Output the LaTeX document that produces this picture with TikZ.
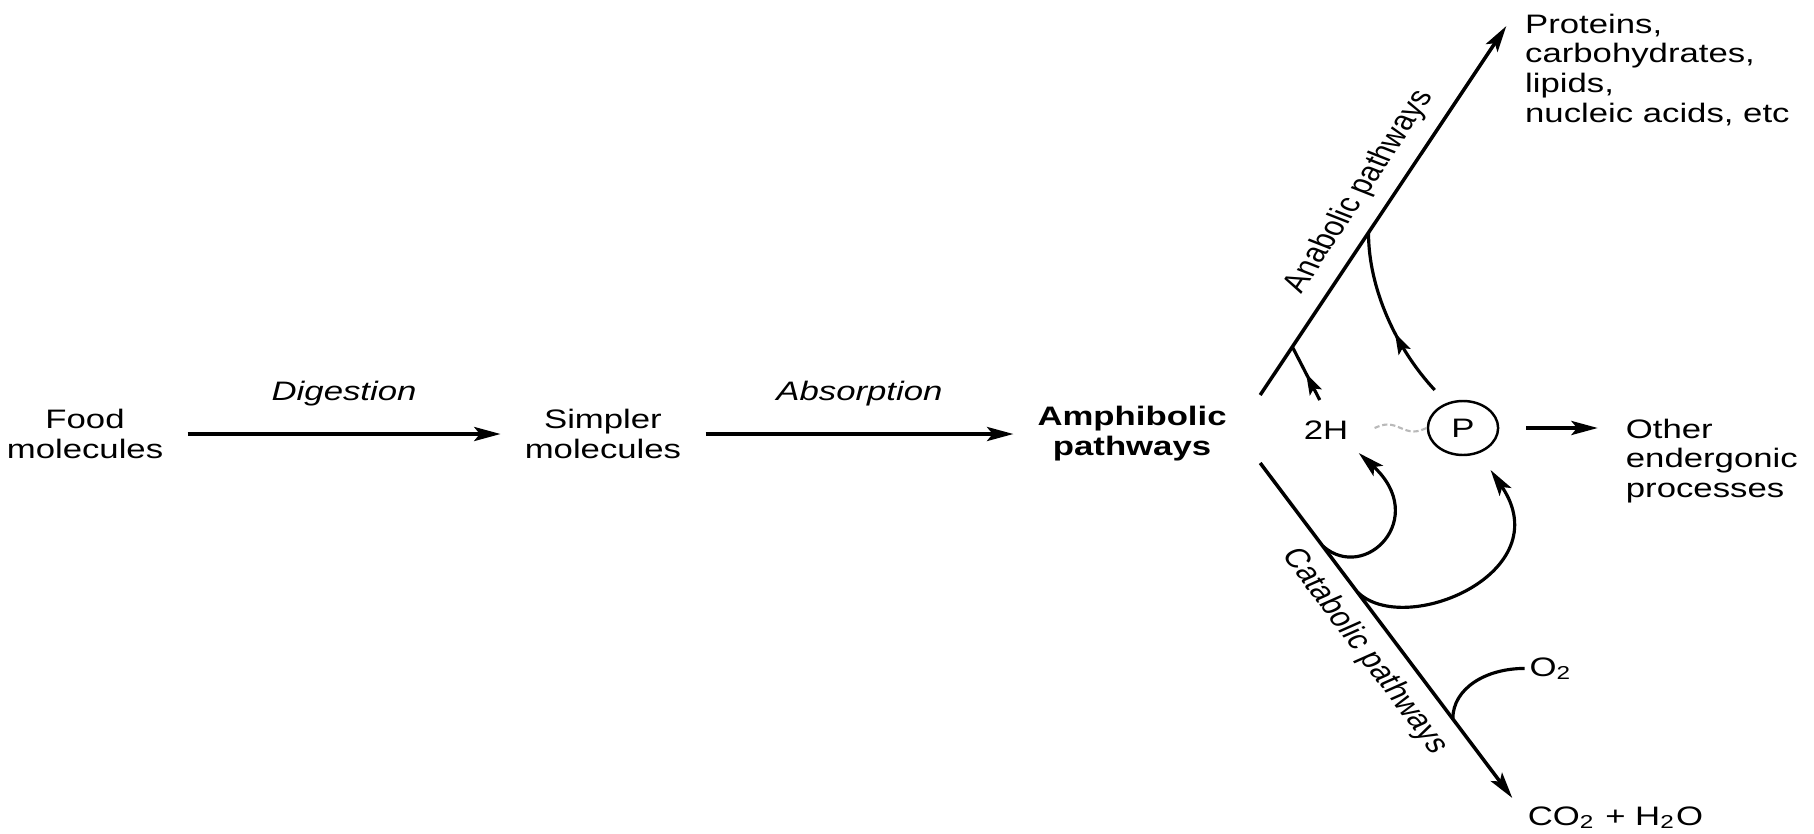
\documentclass[tikz,border=0pt]{standalone}
\usepackage{fontspec}
\setmainfont{Liberation Sans}
\usetikzlibrary{arrows.meta, calc, decorations.markings}

\newcommand{\figfont}{\fontsize{7.6}{8.5}\selectfont}

\begin{document}
\begin{tikzpicture}[
    xscale=1.3,
    every node/.append style={transform shape},
    font=\figfont,
    >={Stealth[length=7.5pt, width=4pt, inset=1.6pt]},
    stage/.style={align=center, inner xsep=0.18cm, inner ysep=1pt},
    txt/.style={align=left, inner sep=1pt},
    steplabel/.style={midway, above=4pt, font=\figfont\itshape},
    pathlabel/.style={inner sep=1pt},
    mainarrow/.style={->, line width=1pt},
    flow/.style={line width=0.9pt},
    curvearrow/.style={->, line width=0.9pt},
    midarrow/.style={line width=0.9pt, postaction={decorate},
        decoration={markings, mark=at position #1 with {\arrow{Stealth[length=6pt, width=3.8pt, inset=1.2pt]}}}},
    tilde/.style={gray!55, line width=0.6pt, dash pattern=on 1.5pt off 0.8pt},
    ppool/.style={draw, circle, minimum size=0.54cm, inner sep=0pt, line width=0.7pt}
]
\useasboundingbox (0,0) rectangle (13.954, 8.33);

% ==========================================
% Food -> simpler molecules -> amphibolic
% ==========================================
\node[stage] (food) at (0.654, 3.99) {Food\\molecules};
\node[stage] (simpler) at (4.638, 3.99) {Simpler\\molecules};
\node[stage, font=\figfont\bfseries] (amph) at (8.708, 3.99) {Amphibolic\\pathways};

\draw[mainarrow] (food) -- (simpler) node[steplabel] (dig) {Digestion};
\draw[mainarrow] (simpler) -- (amph) node[steplabel] (absorb) {Absorption};

% ==========================================
% Anabolic / catabolic branches
% ==========================================
\coordinate (ana_start) at (9.692, 4.38);
\coordinate (ana_end) at (11.585, 8.07);
\coordinate (cat_start) at (9.692, 3.70);
\coordinate (cat_end) at (11.631, 0.35);

\draw[mainarrow] (ana_start) -- (ana_end)
    coordinate[pos=0.13] (ana_h)
    coordinate[pos=0.439] (ana_p)
    node[pathlabel, pos=0.52, rotate=62.84, above=2pt] (ana_label) {Anabolic pathways};
\draw[mainarrow] (cat_start) -- (cat_end)
    coordinate[pos=0.249] (cat_h)
    coordinate[pos=0.386] (cat_p)
    coordinate[pos=0.763] (cat_o)
    node[pathlabel, pos=0.525, rotate=-59.94, below=2pt] (cat_label) {Catabolic pathways};

% end products
\node[txt, anchor=north west] (proteins) at (11.69, 8.235) {Proteins,\\carbohydrates,\\lipids,\\nucleic acids, etc};
\node[txt, anchor=base west] (otwo) at (11.725, 1.57) {O\textsubscript{2}};
\node[txt, anchor=base west] (waste) at (11.71, 0.08) {CO\textsubscript{2} + H\textsubscript{2}O};

% ==========================================
% 2H and ~P pool
% ==========================================
\node[txt] (twoH) at (10.2, 4.03) {2H};
\node[ppool] (pool) at (11.254, 4.05) {P};
\node[txt, anchor=north west] (other) at (12.465, 4.185) {Other\\endergonic\\processes};

\draw[tilde] ($(pool.west)+(-0.4,0)$) sin ++(0.1,0.035) cos ++(0.1,-0.035) sin ++(0.1,-0.035) cos ++(0.1,0.035);
\draw[mainarrow, shorten <=0.26cm, shorten >=0.23cm] (pool.east) -- (pool.east -| other.west);

% pool feeds the anabolic branch
\draw[midarrow=0.5] ($(twoH.center)+(-0.05,0.3)$) -- (ana_h);
\draw[midarrow=0.4] ($(pool.center)+(-0.22,0.38)$) .. controls +(-0.3,0.42) and +(0,-0.55) .. (ana_p);

% catabolic branch refills the pool
\draw[curvearrow] (cat_h) .. controls +(0.325,-0.366) and +(0.546,-0.65) .. ($(twoH.center)+(0.25,-0.23)$);
\draw[curvearrow] (cat_p) .. controls +(0.36,-0.457) and +(0.538,-1.03) .. ($(pool.center)+(0.21,-0.42)$);

% oxygen enters the catabolic branch
\draw[flow] (otwo.west) .. controls +(-0.3,0) and +(0,0.3) .. (cat_o);

\end{tikzpicture}
\end{document}
